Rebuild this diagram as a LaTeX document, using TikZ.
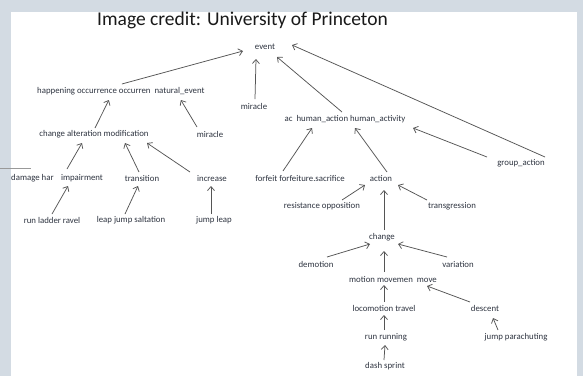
\documentclass[tikz,border=0pt]{standalone}
\usepackage{fontspec}
\setmainfont{Carlito}
\usetikzlibrary{arrows.meta}
\definecolor{frame}{HTML}{D3DBE3}
\definecolor{ink}{HTML}{2E3440}
\definecolor{wire}{HTML}{555555}
\tikzset{
  lbl/.style={inner sep=0pt, text=ink, font=\fontsize{8.8}{10}\selectfont},
  arr/.style={draw=wire, line width=0.75pt, -{Straight Barb[length=4pt,width=7pt]}},
}
\begin{document}
\begin{tikzpicture}[x=1pt,y=-1pt]
  % slide frame
  \useasboundingbox (0,0) rectangle (583,376);
  \fill[frame] (0,0) rectangle (583,376);
  \fill[white] (11,12) rectangle (577,377);
  \draw[gray!80, line width=0.8pt] (0,168) -- (31,168);

  % title
  \node[inner sep=0pt, text=black!90, font=\fontsize{19.5}{23}\selectfont] (title) at (242.5,20) {Image credit: University of Princeton};

  % hypernym tree
  \node[lbl] (event) at (265,47) {event};
  \node[lbl, anchor=west] (hap) at (37,91) {happening occurrence occurren\ \ natural\_event};
  \node[lbl] (mir1) at (254,106) {miracle};
  \node[lbl] (ac) at (345,119) {ac\ \ human\_action human\_activity};
  \node[lbl] (chg) at (94,134) {change alteration modification};
  \node[lbl] (mir2) at (210,134) {miracle};
  \node[lbl, anchor=west] (dmg) at (11,178) {damage har};
  \node[lbl] (imp) at (82,178) {impairment};
  \node[lbl] (trans) at (142,178) {transition};
  \node[lbl] (inc) at (212,178) {increase};
  \node[lbl] (forf) at (300,178) {forfeit forfeiture.sacrifice};
  \node[lbl] (act) at (381,178) {action};
  \node[lbl] (grp) at (521,163) {group\_action};
  \node[lbl] (run1) at (52,220) {run ladder ravel};
  \node[lbl] (leap) at (131,220) {leap jump saltation};
  \node[lbl] (jl) at (214,220) {jump leap};
  \node[lbl] (res) at (322,206) {resistance opposition};
  \node[lbl] (trg) at (452,206) {transgression};
  \node[lbl] (change) at (382,237) {change};
  \node[lbl] (dem) at (316,264) {demotion};
  \node[lbl] (var) at (458,264) {variation};
  \node[lbl] (mot) at (393,279) {motion movemen\ \ move};
  \node[lbl] (loco) at (384,308) {locomotion travel};
  \node[lbl] (desc) at (485,308) {descent};
  \node[lbl] (runr) at (386,337) {run running};
  \node[lbl] (para) at (516,337) {jump parachuting};
  \node[lbl] (dash) at (385,366) {dash sprint};

  % is-a links
  \draw[arr] ([shift={(1,-7)}]hap.center) -- ([shift={(-22,4)}]event.center);
  \draw[arr] ([shift={(1,-7)}]mir1.center) -- ([shift={(-9,12)}]event.center);
  \draw[arr] ([shift={(-3,-7)}]ac.center) -- ([shift={(12,10)}]event.center);
  \draw[arr] ([shift={(24,-6)}]grp.center) -- ([shift={(27,-2)}]event.center);
  \draw[arr] ([shift={(1,-6)}]chg.center) -- ([shift={(-12,9)}]hap.center);
  \draw[arr] ([shift={(-13,-7)}]mir2.center) -- ([shift={(60,9)}]hap.center);
  \draw[arr] ([shift={(-17,-7)}]forf.center) -- ([shift={(-33,9)}]ac.center);
  \draw[arr] ([shift={(6,-6)}]act.center) -- ([shift={(10,9)}]ac.center);
  \draw[arr] ([shift={(-34,-6)}]grp.center) -- ([shift={(68,9)}]ac.center);
  \draw[arr] ([shift={(-15,-9)}]imp.center) -- ([shift={(-12,9)}]chg.center);
  \draw[arr] ([shift={(-3,-6)}]trans.center) -- ([shift={(31,9)}]chg.center);
  \draw[arr] ([shift={(-22,-6)}]inc.center) -- ([shift={(53,9)}]chg.center);
  \draw[arr] ([shift={(0,-6)}]run1.center) -- ([shift={(-14,8)}]imp.center);
  \draw[arr] ([shift={(-6,-6)}]leap.center) -- ([shift={(-4,8)}]trans.center);
  \draw[arr] ([shift={(-3,-6)}]jl.center) -- ([shift={(-1,8)}]inc.center);
  \draw[arr] ([shift={(20,-6)}]res.center) -- ([shift={(-16,7)}]act.center);
  \draw[arr] ([shift={(-25,-6)}]trg.center) -- ([shift={(17,7)}]act.center);
  \draw[arr] ([shift={(2,-7)}]change.center) -- ([shift={(3,12)}]act.center);
  \draw[arr] ([shift={(11,-7)}]dem.center) -- ([shift={(-12,7)}]change.center);
  \draw[arr] ([shift={(-11,-7)}]var.center) -- ([shift={(16,7)}]change.center);
  \draw[arr] ([shift={(-9,-7)}]mot.center) -- ([shift={(2,14)}]change.center);
  \draw[arr] ([shift={(0,-6)}]loco.center) -- ([shift={(-9,6)}]mot.center);
  \draw[arr] ([shift={(-15,-6)}]desc.center) -- ([shift={(34,7)}]mot.center);
  \draw[arr] ([shift={(-2,-7)}]runr.center) -- ([shift={(0,7)}]loco.center);
  \draw[arr] ([shift={(-18,-7)}]para.center) -- ([shift={(8,10)}]desc.center);
  \draw[arr] ([shift={(-1,-6)}]dash.center) -- ([shift={(-1,8)}]runr.center);
\end{tikzpicture}
\end{document}
